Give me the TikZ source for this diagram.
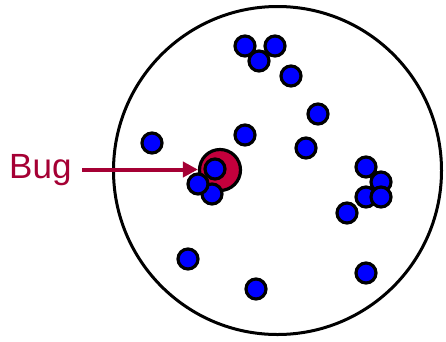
\documentclass[tikz,border=0pt]{standalone}
\usepackage{fontspec}
\setmainfont{Liberation Sans}
\usetikzlibrary{arrows.meta}
\definecolor{bugred}{RGB}{165,0,52}
\definecolor{bugfill}{RGB}{196,0,60}
\definecolor{dotblue}{RGB}{0,0,255}
\begin{document}
\begin{tikzpicture}[x=1pt,y=-1pt,
  dot/.style={circle,draw=black,line width=3.2pt,fill=dotblue,minimum size=20pt,inner sep=0pt},
  bugring/.style={circle,draw=black,line width=3.2pt,fill=bugfill,minimum size=41pt,inner sep=0pt}]
\useasboundingbox (0,0) rectangle (446,341);
\node[circle,draw=black,line width=3pt,minimum size=328pt,inner sep=0pt] (dish) at (277.5,170.5) {};
\node[bugring] (bug) at (220,170) {};
\foreach \n/\x/\y in {a/245/46,b/275/46,c/259/61,d/291/76,e/318/114,f/245/135,g/306/148,h/152/143,
  i/366/167,j/381/182,k/366/197,l/381/197,m/347/213,n/188/259,o/256/289,p/366/273,
  q/212/194,r/198/184,s/215/169}
  \node[dot] (\n) at (\x,\y) {};
\node[anchor=base west,text=bugred,font=\fontsize{35}{35}\selectfont,inner sep=0pt] (lbl) at (9,178) {Bug};
\coordinate (st) at (82,169.5);
\draw[bugred,line width=4pt,-{Triangle[length=15pt,width=15pt]}] (st) -- (st -| bug.west);
\end{tikzpicture}
\end{document}
